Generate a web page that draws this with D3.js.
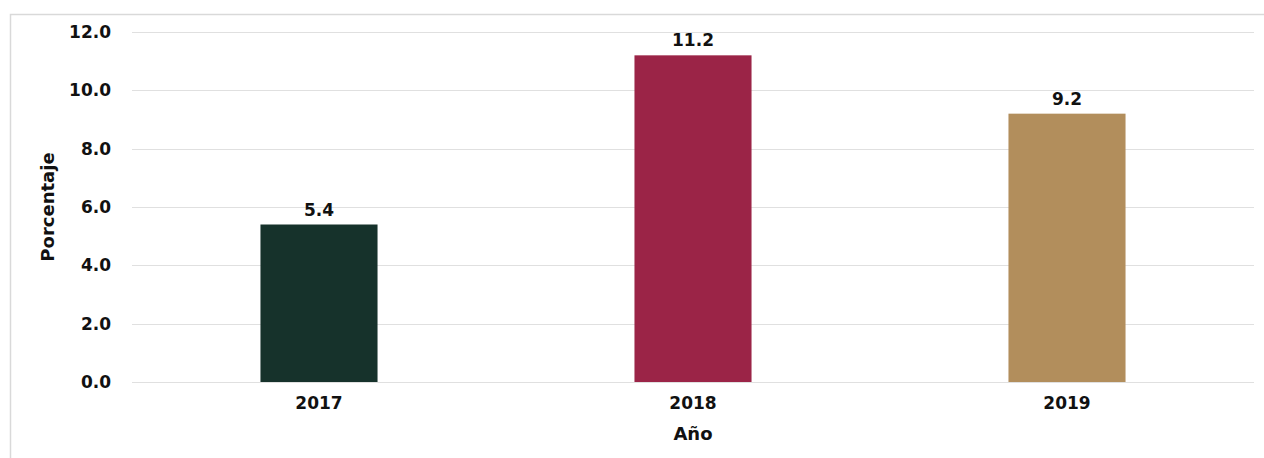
<!DOCTYPE html>
<html>
<head>
<meta charset="utf-8">
<script src="https://cdn.jsdelivr.net/npm/d3@7"></script>
<style>
  html, body { margin: 0; padding: 0; background: #fff; }
  svg { display: block; }
  text { font-family: "DejaVu Sans", sans-serif; font-weight: bold; fill: #111; }
</style>
</head>
<body>
<svg id="chart" width="1264" height="458"></svg>
<script>
// Años y porcentajes
const years = ["2017", "2018", "2019"];
const values = [5.4, 11.2, 9.2];
const barColors = ["#16322b", "#9b2447", "#b28e5c"];
const yTicks = [0, 2, 4, 6, 8, 10, 12];

const svg = d3.select("#chart");
const W = 1264, H = 458;
const margin = { left: 132, right: 10, top: 32, bottom: 76 };

// Marco del gráfico
svg.append("path")
  .attr("d", `M10.5,${H + 2} L10.5,14.5 L${W + 2},14.5`)
  .attr("fill", "none")
  .attr("stroke", "#d9d9d9")
  .attr("stroke-width", 1.5);

const x = d3.scaleBand()
  .domain(years)
  .range([margin.left, W - margin.right])
  .paddingInner(0.687)
  .paddingOuter(0.3435);

const y = d3.scaleLinear()
  .domain([0, 12])
  .range([H - margin.bottom, margin.top]);

// Líneas de cuadrícula
svg.append("g")
  .selectAll("line")
  .data(yTicks)
  .join("line")
  .attr("x1", margin.left)
  .attr("x2", W - margin.right)
  .attr("y1", d => Math.round(y(d)) + 0.5)
  .attr("y2", d => Math.round(y(d)) + 0.5)
  .attr("stroke", "#e0e0e0")
  .attr("stroke-width", 1);

// Eje Y
const yAxis = svg.append("g")
  .attr("transform", `translate(${margin.left},0)`)
  .call(d3.axisLeft(y).tickValues(yTicks).tickFormat(d3.format(".1f")).tickSize(0).tickPadding(21));
yAxis.select(".domain").remove();
yAxis.selectAll("text").style("font-size", "17px").style("font-family", "DejaVu Sans, sans-serif").style("font-weight", "bold").attr("fill", "#111");

// Eje X
const xAxis = svg.append("g")
  .attr("transform", `translate(0,${y(0)})`)
  .call(d3.axisBottom(x).tickSize(0).tickPadding(15));
xAxis.select(".domain").remove();
xAxis.selectAll("text").style("font-size", "17px").style("font-family", "DejaVu Sans, sans-serif").style("font-weight", "bold").attr("fill", "#111");

// Barras
svg.append("g")
  .selectAll("rect")
  .data(values)
  .join("rect")
  .attr("x", (d, i) => x(years[i]))
  .attr("y", d => y(d))
  .attr("width", x.bandwidth())
  .attr("height", d => y(0) - y(d))
  .attr("fill", (d, i) => barColors[i]);

// Etiquetas de valor
svg.append("g")
  .selectAll("text")
  .data(values)
  .join("text")
  .attr("x", (d, i) => x(years[i]) + x.bandwidth() / 2)
  .attr("y", d => y(d) - 9)
  .attr("text-anchor", "middle")
  .style("font-size", "17px")
  .text(d => d3.format(".1f")(d));

// Títulos de ejes
svg.append("text")
  .attr("x", (margin.left + W - margin.right) / 2)
  .attr("y", 440)
  .attr("text-anchor", "middle")
  .style("font-size", "18px")
  .text("Año");

svg.append("text")
  .attr("transform", `translate(54,${(y(0) + y(12)) / 2}) rotate(-90)`)
  .attr("text-anchor", "middle")
  .style("font-size", "18px")
  .text("Porcentaje");
</script>
</body>
</html>
